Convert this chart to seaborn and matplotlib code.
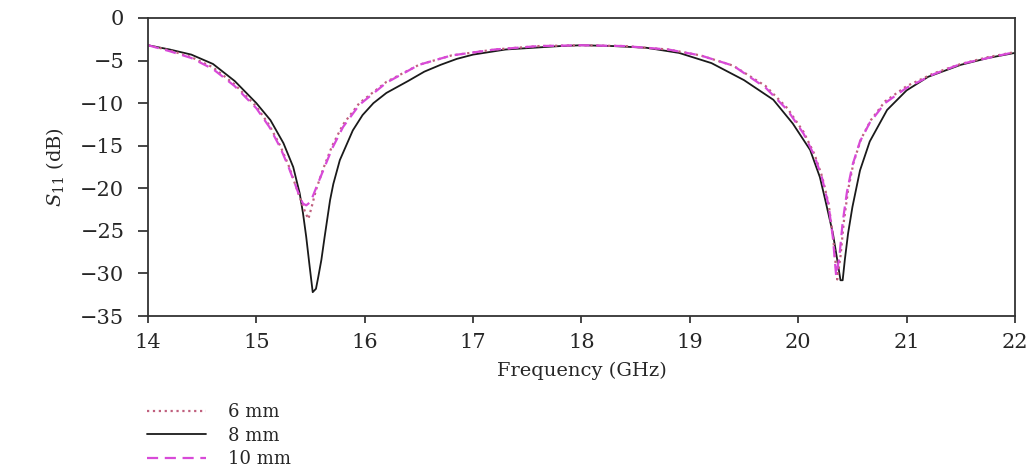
import seaborn as sns
import pandas as pd
import matplotlib.pyplot as plt

# S11 curves, one list per patch size
freq_6 = [14.0, 14.2, 14.4, 14.6, 14.8, 15.0, 15.12, 15.22, 15.30, 15.36,
          15.41, 15.45, 15.48, 15.51, 15.55, 15.62, 15.70, 15.80, 15.95, 16.2,
          16.5, 16.8, 17.2, 17.6, 18.0, 18.4, 18.8, 19.1, 19.4, 19.7,
          19.9, 20.05, 20.15, 20.22, 20.28, 20.32, 20.36, 20.39, 20.42, 20.46,
          20.51, 20.58, 20.67, 20.8, 21.0, 21.25, 21.5, 21.75, 22.0]
s11_6 = [-3.2, -3.8, -4.6, -5.8, -7.8, -10.4, -12.6, -15.0, -17.4, -19.6,
         -21.4, -22.8, -23.6, -22.2, -20.2, -17.6, -15.0, -12.5, -10.0, -7.5,
         -5.5, -4.4, -3.7, -3.3, -3.2, -3.3, -3.7, -4.4, -5.6, -8.0,
         -10.6, -13.4, -16.0, -18.6, -21.8, -25.6, -30.7, -28.0, -24.0, -20.2,
         -17.0, -14.2, -12.0, -9.8, -8.0, -6.5, -5.4, -4.6, -4.0]

freq_8 = [14.0, 14.2, 14.4, 14.6, 14.8, 15.0, 15.13, 15.25, 15.34, 15.40,
          15.43, 15.46, 15.49, 15.52, 15.55, 15.57, 15.60, 15.63, 15.68, 15.71,
          15.77, 15.89, 15.98, 16.08, 16.2, 16.4, 16.55, 16.7, 16.85, 17.0,
          17.3, 17.8, 18.0, 18.3, 18.6, 18.9, 19.2, 19.5, 19.77, 19.95,
          20.11, 20.2, 20.25, 20.32, 20.36, 20.39, 20.41, 20.43, 20.46, 20.5,
          20.57, 20.66, 20.82, 21.0, 21.2, 21.5, 21.75, 22.0]
s11_8 = [-3.2, -3.7, -4.3, -5.4, -7.4, -10.0, -12.0, -14.7, -17.5, -20.6,
         -22.9, -25.7, -29.0, -32.2, -31.8, -30.5, -28.4, -25.7, -21.4, -19.5,
         -16.7, -13.2, -11.4, -10.0, -8.8, -7.4, -6.3, -5.5, -4.8, -4.3,
         -3.7, -3.3, -3.2, -3.3, -3.5, -4.1, -5.3, -7.3, -9.6, -12.4,
         -15.5, -18.7, -21.4, -25.3, -28.4, -30.8, -30.8, -28.4, -25.3, -22.2,
         -17.9, -14.5, -10.8, -8.5, -6.9, -5.5, -4.7, -4.1]

freq_10 = [14.0, 14.2, 14.4, 14.6, 14.8, 15.0, 15.12, 15.22, 15.30, 15.36,
           15.40, 15.43, 15.46, 15.50, 15.55, 15.62, 15.70, 15.80, 15.95, 16.2,
           16.5, 16.8, 17.2, 17.6, 18.0, 18.4, 18.8, 19.1, 19.4, 19.7,
           19.9, 20.05, 20.15, 20.22, 20.28, 20.32, 20.35, 20.38, 20.41, 20.45,
           20.5, 20.57, 20.66, 20.8, 21.0, 21.25, 21.5, 21.75, 22.0]
s11_10 = [-3.2, -3.9, -4.7, -6.0, -8.0, -10.6, -12.8, -15.2, -17.6, -19.6,
          -21.0, -21.8, -22.0, -21.6, -20.0, -17.8, -15.3, -12.8, -10.2, -7.6,
          -5.5, -4.4, -3.7, -3.3, -3.2, -3.3, -3.7, -4.4, -5.6, -8.2,
          -10.8, -13.6, -16.2, -18.8, -22.0, -25.8, -30.3, -28.0, -24.0, -20.4,
          -17.3, -14.5, -12.3, -10.0, -8.2, -6.6, -5.4, -4.7, -4.0]

x_ticks = [14, 15, 16, 17, 18, 19, 20, 21, 22]
y_ticks = [0, -5, -10, -15, -20, -25, -30, -35]

df6 = pd.DataFrame({"freq": freq_6, "s11": s11_6})
df8 = pd.DataFrame({"freq": freq_8, "s11": s11_8})
df10 = pd.DataFrame({"freq": freq_10, "s11": s11_10})

sns.set_theme(style="ticks")
plt.rcParams["font.family"] = ["DejaVu Serif"]
plt.rcParams["mathtext.fontset"] = "dejavuserif"

fig = plt.figure(figsize=(10.32, 4.76), dpi=100)
ax = fig.add_axes([0.1434, 0.3361, 0.8401, 0.6261])

sns.lineplot(data=df8, x="freq", y="s11", ax=ax, color="#1a1a1a",
             linewidth=1.3, label="8 mm", sort=False)
sns.lineplot(data=df6, x="freq", y="s11", ax=ax, color="#c0607e",
             linewidth=1.6, linestyle=":", label="6 mm", sort=False)
sns.lineplot(data=df10, x="freq", y="s11", ax=ax, color="#d84ad8",
             linewidth=1.6, linestyle=(0, (5, 3)), label="10 mm", sort=False)

ax.set_xlim(14, 22)
ax.set_ylim(-35, 0)
ax.set_xticks(x_ticks)
ax.set_yticks(y_ticks)
ax.set_yticklabels(["0"] + ["\u2212" + str(-v) for v in y_ticks[1:]])
ax.set_xlabel("Frequency (GHz)", fontsize=14, labelpad=7)
ax.set_ylabel(r"$S_{11}$ (dB)", fontsize=14, labelpad=10)
ax.tick_params(axis="x", direction="out", length=5, width=1.2, labelsize=15, pad=7)
ax.tick_params(axis="y", direction="out", length=7, width=1.2, labelsize=15, pad=10)
for s in ax.spines.values():
    s.set_linewidth(1.3)
    s.set_color("#333333")

# legend sits under the axes, in 6 / 8 / 10 mm order
handles, labels = ax.get_legend_handles_labels()
order = [labels.index(l) for l in ["6 mm", "8 mm", "10 mm"]]
ax.legend_.remove()
fig.legend([handles[i] for i in order], [labels[i] for i in order],
           loc="upper left", bbox_to_anchor=(0.142, 0.153), frameon=False,
           fontsize=13, handlelength=3.3, handletextpad=1.2,
           labelspacing=0.31, borderpad=0, borderaxespad=0)

fig.savefig("out.png", dpi=100)
